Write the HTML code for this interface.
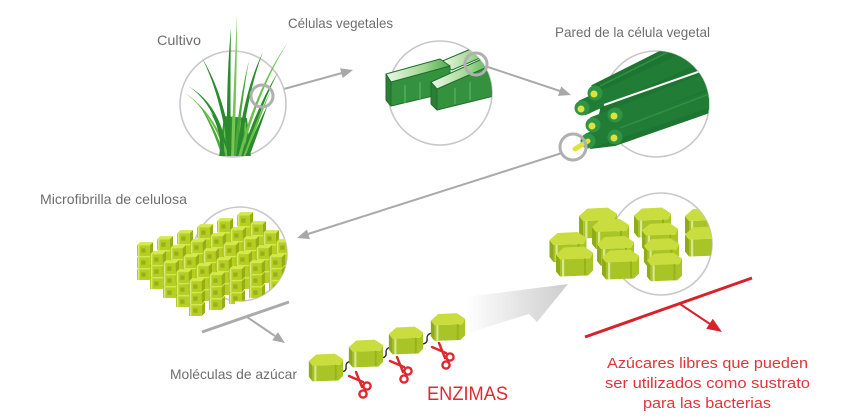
<!DOCTYPE html>
<html><head><meta charset="utf-8"><style>
html,body{margin:0;padding:0;background:#fff;}
svg{display:block;}
text{font-family:"Liberation Sans",sans-serif;}
</style></head><body>
<svg width="850" height="420" viewBox="0 0 850 420" xmlns="http://www.w3.org/2000/svg">
<defs>
  <linearGradient id="arrowG" gradientUnits="userSpaceOnUse" x1="465" y1="0" x2="568" y2="0">
    <stop offset="0" stop-color="#ffffff"/>
    <stop offset="1" stop-color="#cdcdcd"/>
  </linearGradient>
  <linearGradient id="cellTop" x1="0" y1="0" x2="1" y2="0">
    <stop offset="0" stop-color="#eef8ea"/>
    <stop offset="0.6" stop-color="#9fd68f"/>
    <stop offset="1" stop-color="#4fae4f"/>
  </linearGradient>
  <clipPath id="c1"><rect x="150" y="0" width="160" height="156"/></clipPath>
  <clipPath id="c2"><circle cx="440" cy="93" r="52"/><rect x="378" y="55" width="40" height="60"/></clipPath>
  <clipPath id="c3"><circle cx="656" cy="104" r="53"/><rect x="560" y="70" width="68" height="95"/></clipPath>
  <clipPath id="c4"><circle cx="240" cy="254" r="47"/><rect x="100" y="180" width="135" height="140"/></clipPath>
  <clipPath id="c5"><circle cx="661" cy="244" r="51"/><rect x="530" y="190" width="100" height="110"/></clipPath>

  <symbol id="cb" viewBox="0 0 15 13" overflow="visible">
    <polygon points="0,3 3,0 15,0 12,3" fill="#d4e84c"/>
    <rect x="0" y="3" width="12" height="10" fill="#b4ce22"/>
    <polygon points="12,3 15,0 15,10 12,13" fill="#95ae18"/>
    <rect x="4" y="6" width="4" height="4" fill="#98b01a"/>
    <rect x="1" y="3" width="1.2" height="10" fill="#d9ea80"/>
  </symbol>
  <symbol id="hx" viewBox="0 0 40 30" overflow="visible">
    <polygon points="2,8 6,13 6,30 2,25" fill="#8fab1a"/>
    <polygon points="6,13 36,12 39,6 39,24 34,29 6,30" fill="#a9c426"/>
    <polygon points="2,8 10,1 30,0 39,6 36,12 6,13" fill="#c9de3e"/>
    <rect x="8" y="13" width="2.2" height="17" fill="#d9e890"/>
    <rect x="30" y="12" width="2" height="17" fill="#98b21c"/>
  </symbol>
  <g id="sc" stroke="#e0262e" stroke-width="2.4" fill="none" stroke-linecap="round">
    <path d="M0,4 L14,10"/>
    <path d="M7,0 L13,15"/>
    <circle cx="18" cy="14" r="3.6"/>
    <circle cx="14" cy="22" r="3.6"/>
  </g>
</defs>

<!-- connector arrows -->
<g stroke="#aaaaaa" stroke-width="2" fill="none">
  <line x1="273" y1="92" x2="342" y2="73"/>
  <line x1="488" y1="67" x2="560" y2="91"/>
  <line x1="562" y1="153" x2="308" y2="234"/>
  <line x1="202" y1="332" x2="289" y2="302" stroke-width="3"/>
  <line x1="247" y1="317" x2="275" y2="336"/>
</g>
<g fill="#a8a8a8">
  <polygon points="353,70 342.7,78 340.1,68.4"/>
  <polygon points="571,95 558,95.9 561.2,86.5"/>
  <polygon points="297,238 309.9,239.1 306.9,229.5"/>
  <polygon points="285,343 272.3,340.3 277.9,332.1"/>
</g>

<!-- circles -->
<g fill="#fff" stroke="#c8c8c8" stroke-width="1.6">
  <circle cx="233" cy="104" r="53"/>
  <circle cx="440" cy="93" r="52"/>
  <circle cx="656" cy="104" r="53"/>
  <circle cx="240" cy="254" r="47"/>
  <circle cx="661" cy="244" r="51"/>
</g>

<!-- grass -->
<g clip-path="url(#c1)">
  <polygon points="219,157 251,157 247,118 224,116" fill="#2f9334"/>
  <path d="M224,157 L225,120 M232,157 L233,116 M240,157 L240,118 M246,157 L245,122" stroke="#6cc04a" stroke-width="1.6" fill="none"/>
  <path d="M224,157 Q218,105 188,86 Q222,105 228,157 Z" fill="#2a8a2e"/>
  <path d="M226,157 Q214,115 184,92 Q217,115 229,157 Z" fill="#6cc04a"/>
  <path d="M222,157 Q212,125 198,103 Q215,125 225,157 Z" fill="#4aa83e"/>
  <path d="M220,157 Q222,130 210,112 Q226,130 224,157 Z" fill="#2a8a2e"/>
  <path d="M229,157 Q221,95 202,58 Q225,95 233,157 Z" fill="#2a8a2e"/>
  <path d="M227,157 Q226,80 231,28 Q230,80 231,157 Z" fill="#2a8a2e"/>
  <path d="M231,157 Q234,80 237,15 Q237,80 234,157 Z" fill="#7cc452"/>
  <path d="M234,157 Q238,105 249,60 Q241,105 237,157 Z" fill="#4aa83e"/>
  <path d="M236,157 Q244,90 263,52 Q248,90 240,157 Z" fill="#2a8a2e"/>
  <path d="M238,157 Q256,88 288,42 Q259,88 241,157 Z" fill="#6cc04a"/>
  <path d="M241,157 Q256,108 278,72 Q260,108 245,157 Z" fill="#2a8a2e"/>
  <path d="M243,157 Q256,120 271,90 Q259,120 246,157 Z" fill="#6cc04a"/>
  <path d="M245,157 Q256,128 268,104 Q260,128 249,157 Z" fill="#2a8a2e"/>
</g>
<circle cx="262" cy="96" r="11" fill="none" stroke="#b0b0b0" stroke-width="3"/>

<!-- cells -->
<g clip-path="url(#c2)" stroke="#1f6e2c" stroke-width="1" stroke-linejoin="round">
  <polygon points="440,62 478,46 494,52 452,70" fill="url(#cellTop)"/>
  <polygon points="391,82 450,66 450,92 391,106" fill="#34923e"/>
  <polygon points="386,74 391,82 391,106 386,100" fill="#2a7f34"/>
  <polygon points="386,74 440,59 450,66 391,82" fill="url(#cellTop)"/>
  <polygon points="437,89 494,64 494,96 437,110" fill="#34923e"/>
  <polygon points="431,82 437,89 437,110 431,104" fill="#2a7f34"/>
  <polygon points="431,82 484,58 494,64 437,89" fill="url(#cellTop)"/>
  <path d="M405,85 L405,103 M420,82 L420,100 M455,88 L455,104 M470,82 L470,100" stroke="#5fb56a" stroke-width="2" opacity="0.6"/>
</g>
<circle cx="476" cy="64" r="11" fill="none" stroke="#b0b0b0" stroke-width="3"/>

<!-- tubes -->
<g clip-path="url(#c3)">
  <polygon points="598,86 730,15 730,106 615,146 590,149 600,110" fill="#1e7531"/>
  <g stroke-linecap="butt" fill="none">
    <line x1="595" y1="93" x2="730" y2="25" stroke="#1e7531" stroke-width="17"/>
    <line x1="582" y1="108" x2="730" y2="40" stroke="#217d36" stroke-width="16"/>
    <line x1="615" y1="115" x2="730" y2="70" stroke="#1e7531" stroke-width="16"/>
    <line x1="593" y1="125" x2="730" y2="72" stroke="#217d36" stroke-width="16"/>
    <line x1="615" y1="137" x2="730" y2="97" stroke="#1e7531" stroke-width="16"/>
    <line x1="588" y1="141" x2="730" y2="92" stroke="#217d36" stroke-width="16"/>
    <line x1="604" y1="105" x2="712" y2="67" stroke="#ffffff" stroke-width="2"/>
    <line x1="600" y1="86" x2="720" y2="26" stroke="#2f9143" stroke-width="1.5"/>
    <line x1="620" y1="128" x2="725" y2="88" stroke="#2f9143" stroke-width="1.5"/>
  </g>
  <g fill="#2f9443">
    <circle cx="595" cy="93" r="7.5"/><circle cx="582" cy="108" r="7.5"/>
    <circle cx="615" cy="115" r="7.5"/><circle cx="593" cy="125" r="7.5"/>
    <circle cx="615" cy="137" r="7.5"/><circle cx="588" cy="141" r="7.5"/>
  </g>
  <g fill="#dfe23a">
    <circle cx="594" cy="94" r="3.5"/><circle cx="581" cy="109" r="3.5"/>
    <circle cx="614" cy="116" r="3.5"/><circle cx="592" cy="126" r="3.5"/>
    <circle cx="614" cy="138" r="3.5"/>
  </g>
  <line x1="588" y1="141" x2="575" y2="149" stroke="#dfe23a" stroke-width="5" stroke-linecap="round"/>
</g>
<circle cx="573" cy="147" r="13" fill="none" stroke="#b0b0b0" stroke-width="3"/>

<!-- microfibrilla -->
<g clip-path="url(#c4)">
<g id="row0">
  <use href="#cb" x="137" y="266" width="16" height="14"/><use href="#cb" x="137" y="254" width="16" height="14"/><use href="#cb" x="137" y="242" width="16" height="14"/>
  <use href="#cb" x="157" y="260" width="16" height="14"/><use href="#cb" x="157" y="248" width="16" height="14"/><use href="#cb" x="157" y="236" width="16" height="14"/>
  <use href="#cb" x="177" y="254" width="16" height="14"/><use href="#cb" x="177" y="242" width="16" height="14"/><use href="#cb" x="177" y="230" width="16" height="14"/>
  <use href="#cb" x="197" y="248" width="16" height="14"/><use href="#cb" x="197" y="236" width="16" height="14"/><use href="#cb" x="197" y="224" width="16" height="14"/>
  <use href="#cb" x="217" y="242" width="16" height="14"/><use href="#cb" x="217" y="230" width="16" height="14"/><use href="#cb" x="217" y="218" width="16" height="14"/>
  <use href="#cb" x="237" y="236" width="16" height="14"/><use href="#cb" x="237" y="224" width="16" height="14"/><use href="#cb" x="237" y="212" width="16" height="14"/>
</g>
<use href="#row0" x="13" y="9"/>
<use href="#row0" x="26" y="18"/>
<use href="#row0" x="39" y="27"/>
<use href="#row0" x="52" y="36"/>
</g>

<!-- chain -->
<g fill="none" stroke="#222" stroke-width="1.3">
  <path d="M342,372 q5,-1 4,-6 q0,-4 5,-5"/>
  <path d="M382,358 q5,-1 4,-6 q0,-4 5,-5"/>
  <path d="M423,344 q5,-1 4,-6 q0,-4 5,-5"/>
</g>
<use href="#hx" x="307" y="352" width="37" height="31"/>
<use href="#hx" x="347" y="338" width="37" height="31"/>
<use href="#hx" x="387" y="325" width="37" height="31"/>
<use href="#hx" x="429" y="312" width="37" height="30"/>

<use href="#sc" transform="translate(349,372)"/>
<use href="#sc" transform="translate(390,357)"/>
<use href="#sc" transform="translate(432,343)"/>

<!-- big gray arrow -->
<polygon points="465,297 568,284 537,322 529,314 468,333" fill="url(#arrowG)"/>

<!-- sugars -->
<g clip-path="url(#c5)">
  <use href="#hx" x="577" y="207" width="41" height="32"/>
  <use href="#hx" x="632" y="207" width="40" height="31"/>
  <use href="#hx" x="683" y="208" width="40" height="30"/>
  <use href="#hx" x="590" y="218" width="40" height="32"/>
  <use href="#hx" x="640" y="222" width="39" height="31"/>
  <use href="#hx" x="547" y="232" width="41" height="30"/>
  <use href="#hx" x="683" y="226" width="40" height="31"/>
  <use href="#hx" x="595" y="235" width="40" height="32"/>
  <use href="#hx" x="642" y="237" width="38" height="31"/>
  <use href="#hx" x="554" y="246" width="40" height="31"/>
  <use href="#hx" x="600" y="249" width="40" height="31"/>
  <use href="#hx" x="645" y="252" width="38" height="30"/>
</g>

<!-- red connector -->
<line x1="585" y1="337" x2="752" y2="278" stroke="#d8222b" stroke-width="3"/>
<line x1="680" y1="304" x2="710" y2="324" stroke="#d8222b" stroke-width="2"/>
<polygon points="722,332 706.2,328.7 712.8,318.7" fill="#d8222b"/>

<!-- labels -->
<g fill="#6e6e6e" font-size="14">
  <text x="157" y="45" textLength="44" lengthAdjust="spacingAndGlyphs">Cultivo</text>
  <text x="288" y="28" textLength="105" lengthAdjust="spacingAndGlyphs">Células vegetales</text>
  <text x="555" y="37" textLength="155" lengthAdjust="spacingAndGlyphs">Pared de la célula vegetal</text>
  <text x="40" y="204" textLength="147" lengthAdjust="spacingAndGlyphs">Microfibrilla de celulosa</text>
  <text x="170" y="379" textLength="127" lengthAdjust="spacingAndGlyphs">Moléculas de azúcar</text>
</g>
<text x="427" y="400" font-size="19" fill="#e02a32" textLength="81" lengthAdjust="spacingAndGlyphs">ENZIMAS</text>
<g fill="#e2333b" font-size="15">
  <text x="607" y="368" textLength="201" lengthAdjust="spacingAndGlyphs">Azúcares libres que pueden</text>
  <text x="605" y="388" textLength="205" lengthAdjust="spacingAndGlyphs">ser utilizados como sustrato</text>
  <text x="643" y="408" textLength="128" lengthAdjust="spacingAndGlyphs">para las bacterias</text>
</g>
</svg>
</body></html>
